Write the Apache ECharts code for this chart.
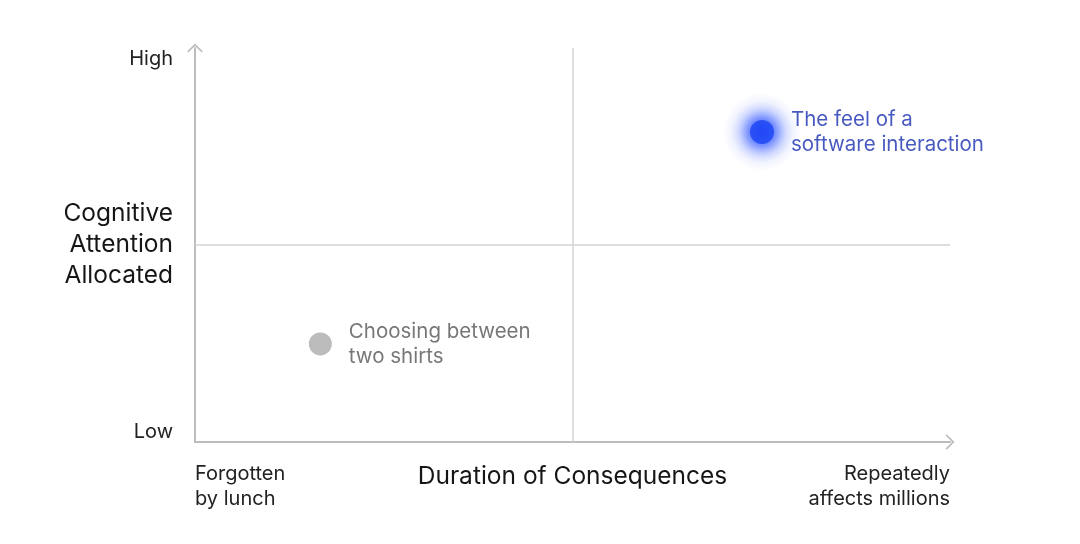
<!DOCTYPE html>
<html>
<head>
<meta charset="utf-8">
<script src="https://cdn.jsdelivr.net/npm/echarts@6/dist/echarts.min.js"></script>
<style>
  html, body { margin: 0; padding: 0; background: #fff; }
  #chart { width: 1080px; height: 544px; }
</style>
</head>
<body>
<div id="chart"></div>
<script>
// axis end labels
var xEndLabels = ['Forgotten\nby lunch', 'Repeatedly\naffects millions'];
var yEndLabels = ['Low', 'High'];

// the two plotted items (0..1 on both axes)
var itemNames = ['Choosing between\ntwo shirts', 'The feel of a\nsoftware interaction'];
var itemX = [0.166, 0.751];
var itemY = [0.249, 0.787];

var arrow = 'path://M0,9 L9,0 L18,9 L16.6,10.4 L9,2.8 L1.4,10.4 Z';
var font = 'Inter, "Noto Sans", sans-serif';

var myChart = echarts.init(document.getElementById('chart'));

var option = {
    backgroundColor: '#fff',
    textStyle: { fontFamily: font },
    grid: { left: 195, right: 130, top: 48, bottom: 102 },
    xAxis: {
        type: 'value',
        min: 0, max: 1, interval: 1,
        name: 'Duration of Consequences',
        nameLocation: 'middle',
        nameGap: 22,
        nameMoveOverlap: false,
        nameTextStyle: { fontSize: 24.5, color: '#161616', fontFamily: font, verticalAlign: 'top' },
        axisLine: {
            lineStyle: { color: '#bdbdbd', width: 2 },
            symbol: ['none', arrow],
            symbolSize: [16, 9]
        },
        axisTick: { show: false },
        splitLine: { show: false },
        axisLabel: {
            margin: 19,
            fontSize: 20,
            lineHeight: 25,
            color: '#222',
            verticalAlign: 'top',
            alignMinLabel: 'left',
            alignMaxLabel: 'right',
            formatter: function (v) { return xEndLabels[v]; }
        }
    },
    yAxis: {
        type: 'value',
        min: 0, max: 1, interval: 1,
        name: 'Cognitive\nAttention\nAllocated',
        nameLocation: 'middle',
        nameRotate: 0,
        nameGap: 22,
        nameMoveOverlap: false,
        nameTextStyle: { fontSize: 24.5, lineHeight: 31, color: '#161616', fontFamily: font, align: 'right' },
        axisLine: {
            lineStyle: { color: '#bdbdbd', width: 2 },
            symbol: ['none', arrow],
            symbolSize: [16, 9]
        },
        axisTick: { show: false },
        splitLine: { show: false },
        axisLabel: {
            margin: 22,
            fontSize: 20,
            lineHeight: 21,
            color: '#222',
            formatter: function (v) {
                return v === 1 ? '\n' + yEndLabels[1] : yEndLabels[0] + '\n';
            }
        }
    },
    series: [
        {
            // soft halo behind the highlighted item
            type: 'scatter',
            silent: true,
            z: 1,
            symbolSize: 78,
            data: [[itemX[1], itemY[1]]],
            itemStyle: {
                color: {
                    type: 'radial', x: 0.5, y: 0.5, r: 0.5,
                    colorStops: [
                        { offset: 0, color: 'rgba(35, 75, 255, 0.9)' },
                        { offset: 0.35, color: 'rgba(35, 75, 255, 0.6)' },
                        { offset: 0.6, color: 'rgba(35, 75, 255, 0.25)' },
                        { offset: 0.8, color: 'rgba(35, 75, 255, 0.07)' },
                        { offset: 1, color: 'rgba(35, 75, 255, 0)' }
                    ]
                }
            }
        },
        {
            type: 'scatter',
            silent: true,
            z: 2,
            data: [
                {
                    value: [itemX[0], itemY[0]],
                    name: itemNames[0],
                    symbolSize: 23,
                    itemStyle: { color: '#ababab' },
                    label: { color: '#555' }
                },
                {
                    value: [itemX[1], itemY[1]],
                    name: itemNames[1],
                    symbolSize: 24,
                    itemStyle: {
                        color: '#1c43f2',
                        shadowBlur: 14,
                        shadowColor: 'rgba(30, 70, 255, 0.9)'
                    },
                    label: { color: '#1a30b0' }
                }
            ],
            label: {
                show: true,
                position: 'right',
                distance: 17,
                fontSize: 20.5,
                lineHeight: 25,
                fontFamily: font,
                formatter: function (p) { return p.name; }
            },
            markLine: {
                silent: true,
                symbol: 'none',
                label: { show: false },
                lineStyle: { color: '#d3d3d3', width: 1.5, type: 'solid' },
                data: [{ xAxis: 0.5 }, { yAxis: 0.5 }]
            }
        }
    ]
};

myChart.setOption(option);
</script>
</body>
</html>
